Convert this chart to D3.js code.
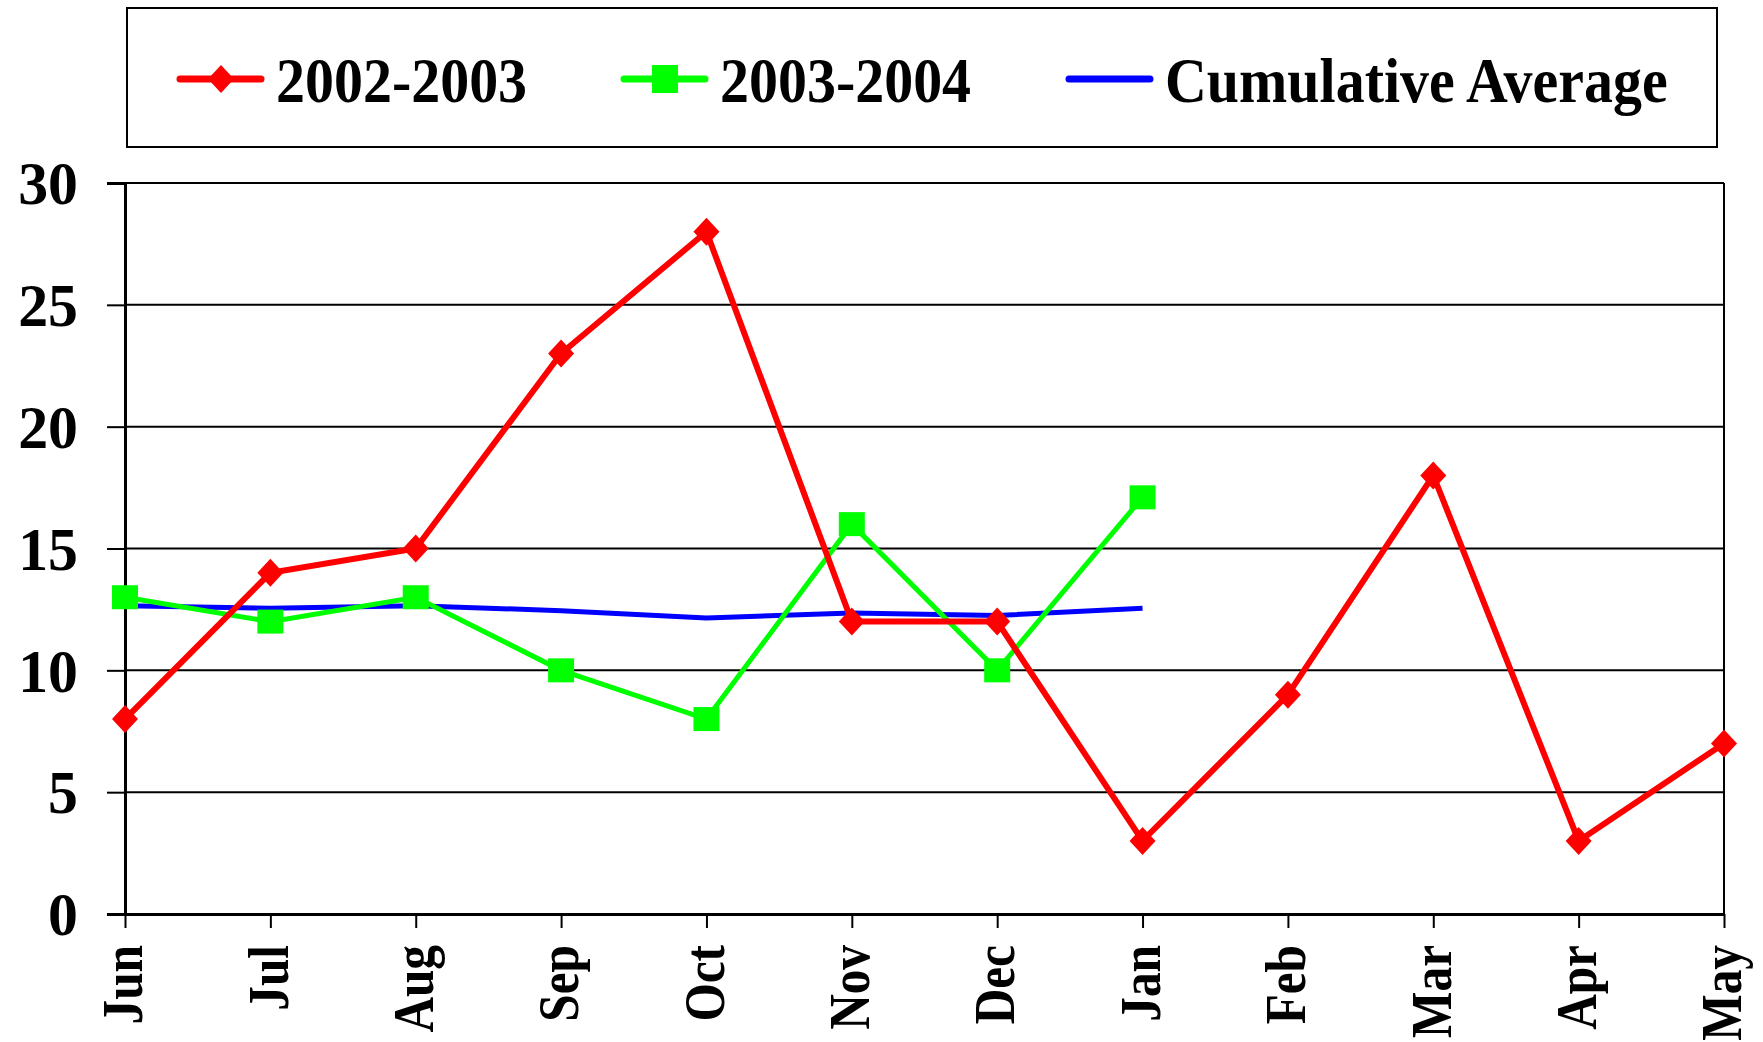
<!DOCTYPE html>
<html>
<head>
<meta charset="utf-8">
<script src="https://cdn.jsdelivr.net/npm/d3@7"></script>
<style>
  body { margin: 0; background: #fff; }
  svg { display: block; }
  text { font-family: "Liberation Serif", "Times New Roman", serif; font-weight: bold; }
</style>
</head>
<body>
<svg width="1763" height="1042"></svg>
<script>
// data
let months = ["Jun", "Jul", "Aug", "Sep", "Oct", "Nov", "Dec", "Jan", "Feb", "Mar", "Apr", "May"]
let season1 = [8, 14, 15, 23, 28, 12, 12, 3, 9, 18, 3, 7]
let season2 = [13, 12, 13, 10, 8, 16, 10, 17.1]
let cumAvg = [12.65, 12.55, 12.65, 12.45, 12.15, 12.35, 12.25, 12.55]
let yTicks = [0, 5, 10, 15, 20, 25, 30]
let seriesNames = ["2002-2003", "2003-2004", "Cumulative Average"]

let svg = d3.select("svg")
let plotL = 125, plotR = 1724, plotT = 183, plotB = 914

let x = d3.scalePoint().domain(months).range([plotL, plotR])
let y = d3.scaleLinear().domain([0, 30]).range([plotB, plotT])

// grid lines
svg.append("g")
  .selectAll("line")
  .data(yTicks.slice(1))
  .enter().append("line")
  .attr("x1", plotL).attr("x2", plotR)
  .attr("y1", (d) => y(d)).attr("y2", (d) => y(d))
  .attr("stroke", "#000").attr("stroke-width", 2)

// right border
svg.append("line")
  .attr("x1", plotR).attr("x2", plotR)
  .attr("y1", plotT).attr("y2", plotB)
  .attr("stroke", "#000").attr("stroke-width", 2)

// y axis
let yAxis = svg.append("g")
  .attr("transform", "translate(" + plotL + ",0)")
  .call(d3.axisLeft(y).tickValues(yTicks).tickSize(18).tickPadding(0).tickFormat(d3.format("d")))
yAxis.select(".domain").attr("stroke-width", 3)
yAxis.selectAll(".tick line").attr("stroke-width", 2)
yAxis.selectAll(".tick text").remove()
yAxis.selectAll(".tick")
  .append("text")
  .attr("transform", "translate(-47,0) scale(0.98,1)")
  .attr("text-anchor", "end")
  .attr("dy", "0.34em")
  .attr("fill", "#000")
  .attr("font-size", "61px")
  .text((d) => d)

// x axis
let xAxis = svg.append("g")
  .attr("transform", "translate(0," + plotB + ")")
  .call(d3.axisBottom(x).tickSize(14).tickSizeOuter(0))
xAxis.select(".domain").attr("stroke-width", 3)
xAxis.selectAll(".tick line").attr("stroke-width", 2)
xAxis.selectAll(".tick text").remove()
xAxis.selectAll(".tick")
  .append("text")
  .attr("transform", "translate(0,31) rotate(-90) scale(0.88,1)")
  .attr("text-anchor", "end")
  .attr("dy", "0.3em")
  .attr("fill", "#000")
  .attr("font-size", "56px")
  .text((d) => d)

let line = d3.line().x((d, i) => x(months[i])).y((d) => y(d))

// cumulative average
svg.append("path")
  .datum(cumAvg)
  .attr("d", line)
  .attr("fill", "none")
  .attr("stroke", "#0000ff")
  .attr("stroke-width", 5)

// 2003-2004
svg.append("path")
  .datum(season2)
  .attr("d", line)
  .attr("fill", "none")
  .attr("stroke", "#00ff00")
  .attr("stroke-width", 5)
svg.append("g")
  .selectAll("rect")
  .data(season2)
  .enter().append("rect")
  .attr("x", (d, i) => x(months[i]) - 13)
  .attr("y", (d) => y(d) - 12)
  .attr("width", 26).attr("height", 24)
  .attr("fill", "#00ff00")

// 2002-2003
svg.append("path")
  .datum(season1)
  .attr("d", line)
  .attr("fill", "none")
  .attr("stroke", "#ff0000")
  .attr("stroke-width", 6)
let diamond = "M0,-14L13,0L0,14L-13,0Z"
svg.append("g")
  .selectAll("path")
  .data(season1)
  .enter().append("path")
  .attr("d", diamond)
  .attr("transform", (d, i) => "translate(" + x(months[i]) + "," + y(d) + ")")
  .attr("fill", "#ff0000")

// legend
let legend = svg.append("g")
legend.append("rect")
  .attr("x", 127).attr("y", 8)
  .attr("width", 1590).attr("height", 139)
  .attr("fill", "none").attr("stroke", "#000").attr("stroke-width", 2)

let legendItems = [
  {name: seriesNames[0], color: "#ff0000", x: 180, marker: "diamond"},
  {name: seriesNames[1], color: "#00ff00", x: 624, marker: "square"},
  {name: seriesNames[2], color: "#0000ff", x: 1069, marker: null}
]
let ly = 79
legendItems.forEach((it) => {
  let g = legend.append("g")
  g.append("line")
    .attr("x1", it.x).attr("x2", it.x + 81)
    .attr("y1", ly).attr("y2", ly)
    .attr("stroke", it.color).attr("stroke-width", 7)
    .attr("stroke-linecap", "round")
  if (it.marker == "diamond") {
    g.append("path").attr("d", diamond)
      .attr("transform", "translate(" + (it.x + 41) + "," + ly + ")")
      .attr("fill", it.color)
  } else if (it.marker == "square") {
    g.append("rect")
      .attr("x", it.x + 28).attr("y", ly - 14)
      .attr("width", 26).attr("height", 28)
      .attr("fill", it.color)
  }
  g.append("text")
    .attr("transform", "translate(" + (it.x + 96) + "," + (ly + 23) + ") scale(0.92,1)")
    .attr("font-size", "63px")
    .attr("fill", "#000")
    .text(it.name)
})
</script>
</body>
</html>
